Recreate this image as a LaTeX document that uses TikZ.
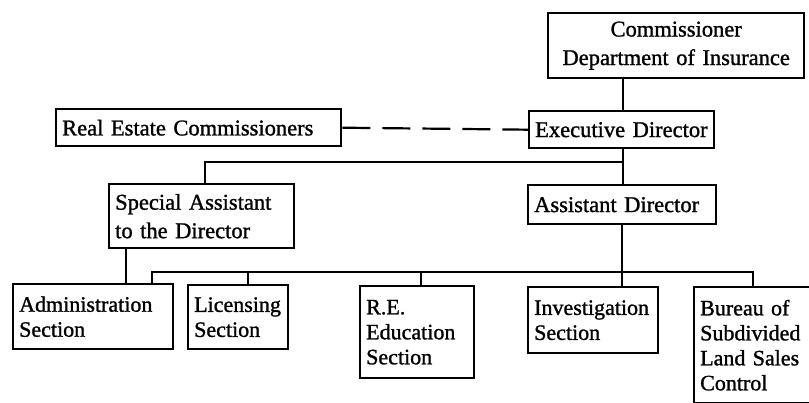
\documentclass[tikz,border=0pt]{standalone}
\usepackage{fontspec}
\setmainfont{Liberation Serif}[FakeBold=1.2]
\begin{document}
\begin{tikzpicture}[x=1pt,y=-1pt,
  box/.style={draw,line width=2.4pt,rectangle,anchor=north west,inner xsep=6pt,inner ysep=0pt,font=\fontsize{22.5}{28.5}\selectfont},
  low/.style={box,font=\fontsize{22}{25}\selectfont,align=left},
  conn/.style={line width=2.2pt}]
\useasboundingbox (0,0) rectangle (809,403);
\newcommand{\bx}[7]{\node[#1,minimum width=#4-#2,minimum height=#5-#3,text width=#4-#2-12pt] (#6) at (#2,#3) {#7};}
\bx{box,align=center}{547}{12}{803}{77}{comm}{Commissioner\\Department of Insurance}
\bx{box,align=left}{528}{110}{713}{147}{exec}{Executive Director}
\bx{box,align=left}{55}{108}{340}{145}{rec}{Real Estate Commissioners}
\bx{box,align=left}{108}{183}{293}{247}{sa}{Special Assistant\\to the Director}
\bx{box,align=left}{527}{184}{715}{223}{ad}{Assistant Director}
\bx{low}{12}{283}{172}{348}{adm}{Administration\\Section}
\bx{low}{187}{284}{287}{348}{lic}{Licensing\\Section}
\bx{low}{359}{285}{473}{377}{ree}{R.E.\\Education\\Section}
\bx{low}{527}{286}{657}{352}{inv}{Investigation\\Section}
\bx{low}{693}{286}{835}{402}{bur}{Bureau of\\Subdivided\\Land Sales\\Control}
\coordinate (c1) at (623,162);
\coordinate (c2) at (205,162);
\coordinate (c3) at (622,272);
\coordinate (b1) at (152,272);
\coordinate (b2) at (248,272);
\coordinate (b3) at (421,272);
\coordinate (b5) at (753,272);
\coordinate (s1) at (126,0);
\draw[conn] (comm.south -| c1) -- (exec.north -| c1);
\draw[conn] (exec.south -| c1) -- (c1) -- (c2) -- (sa.north -| c2);
\draw[conn] (c1) -- (ad.north -| c1);
\draw[conn] (ad.south -| c3) -- (c3);
\draw[conn] (adm.north -| b1) -- (b1) -- (b5) -- (bur.north -| b5);
\draw[conn] (b2) -- (lic.north -| b2);
\draw[conn] (b3) -- (ree.north -| b3);
\draw[conn] (c3) -- (inv.north -| c3);
\draw[conn] (sa.south -| s1) -- (adm.north -| s1);
\draw[conn,dash pattern=on 28pt off 12pt] (rec.east) -- (exec.west);
\end{tikzpicture}
\end{document}
